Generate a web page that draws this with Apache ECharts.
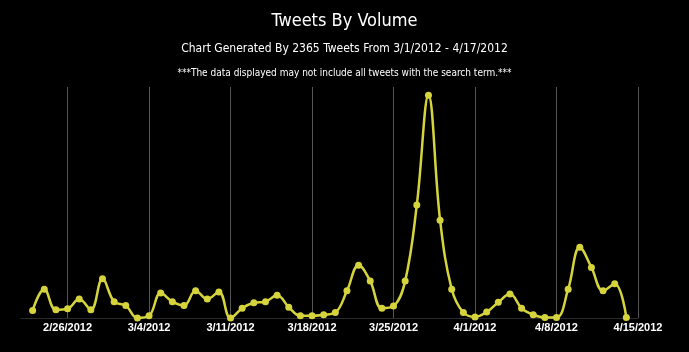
<!DOCTYPE html>
<html>
<head>
<meta charset="utf-8">
<script src="https://cdn.jsdelivr.net/npm/echarts@6/dist/echarts.min.js"></script>
<style>
  html, body { margin: 0; padding: 0; background: #000; }
  #chart { width: 689px; height: 352px; }
</style>
</head>
<body>
<div id="chart"></div>
<script>
// days shown on the x axis (2/22 and 4/15 are the axis ends, no tweets plotted)
var days = [
  '2/22/2012', '2/23/2012', '2/24/2012', '2/25/2012', '2/26/2012', '2/27/2012', '2/28/2012', '2/29/2012',
  '3/1/2012', '3/2/2012', '3/3/2012', '3/4/2012', '3/5/2012', '3/6/2012', '3/7/2012', '3/8/2012',
  '3/9/2012', '3/10/2012', '3/11/2012', '3/12/2012', '3/13/2012', '3/14/2012', '3/15/2012', '3/16/2012',
  '3/17/2012', '3/18/2012', '3/19/2012', '3/20/2012', '3/21/2012', '3/22/2012', '3/23/2012', '3/24/2012',
  '3/25/2012', '3/26/2012', '3/27/2012', '3/28/2012', '3/29/2012', '3/30/2012', '3/31/2012', '4/1/2012',
  '4/2/2012', '4/3/2012', '4/4/2012', '4/5/2012', '4/6/2012', '4/7/2012', '4/8/2012', '4/9/2012',
  '4/10/2012', '4/11/2012', '4/12/2012', '4/13/2012', '4/14/2012', '4/15/2012'
];
// tweets per day
var tweets = [
  '-', 14, 53, 15, 17, 35, 15, 72,
  30, 23, 0, 4, 46, 30, 23, 50,
  35, 48, 0, 18, 28, 30, 42, 20,
  4, 4, 6, 10, 50, 97, 68, 18,
  22, 68, 208, 410, 180, 53, 10, 2,
  11, 29, 44, 18, 6, 1, 1, 53,
  130, 93, 50, 63, 1, '-'
];
var firstSunday = 4; // index of 2/26/2012

var titleFont = '"DejaVu Sans Condensed", "DejaVu Sans", sans-serif';

function isSunday(i) {
  return (i - firstSunday) % 7 === 0;
}

var myChart = echarts.init(document.getElementById('chart'));
var option = {
  backgroundColor: '#000',
  animation: false,
  title: [
    {
      text: 'Tweets By Volume',
      left: 'center', top: 7,
      textStyle: { color: '#fff', fontSize: 18, fontWeight: 'normal', fontFamily: titleFont }
    },
    {
      text: 'Chart Generated By 2365 Tweets From 3/1/2012 - 4/17/2012',
      left: 'center', top: 38,
      textStyle: { color: '#fff', fontSize: 12, fontWeight: 'normal', fontFamily: titleFont }
    },
    {
      text: '***The data displayed may not include all tweets with the search term.***',
      left: 'center', top: 63,
      textStyle: { color: '#fff', fontSize: 10, fontWeight: 'normal', fontFamily: titleFont }
    }
  ],
  grid: { left: 21, right: 51, top: 87, bottom: 34 },
  xAxis: {
    type: 'category',
    data: days,
    boundaryGap: false,
    axisLine: { lineStyle: { color: '#2a2a2a', width: 1 } },
    axisTick: { show: false },
    axisLabel: {
      interval: function (i) { return isSunday(i); },
      color: '#fff',
      fontSize: 11,
      fontWeight: 'bold',
      fontFamily: '"Liberation Sans", Arial, sans-serif',
      margin: 4
    },
    splitLine: {
      show: true,
      interval: function (i) { return isSunday(i); },
      lineStyle: { color: '#555', width: 1 }
    }
  },
  yAxis: {
    type: 'value',
    min: 0,
    max: 425,
    show: false,
    splitLine: { show: false }
  },
  series: [
    {
      name: 'Tweets',
      type: 'line',
      data: tweets,
      smooth: 0.4,
      symbol: 'circle',
      symbolSize: 7,
      lineStyle: { color: '#d6d43c', width: 2.5 },
      itemStyle: { color: '#d6d43c' }
    }
  ]
};
myChart.setOption(option);
</script>
</body>
</html>
